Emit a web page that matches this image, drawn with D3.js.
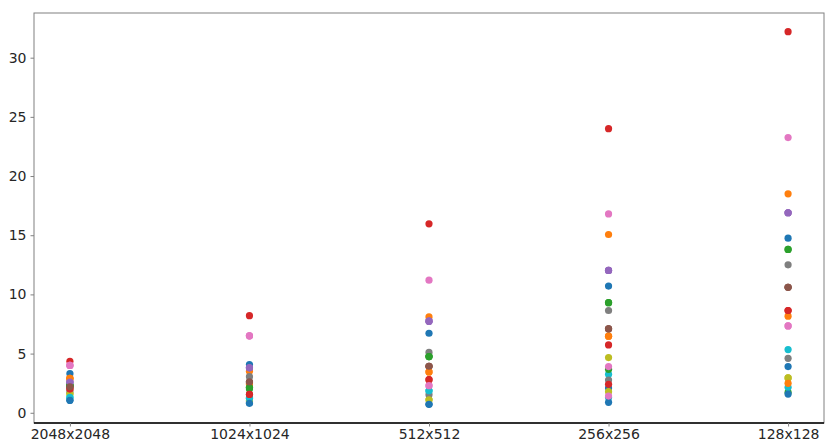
<!DOCTYPE html>
<html>
<head>
<meta charset="utf-8">
<script src="https://cdn.jsdelivr.net/npm/d3@7"></script>
<style>
  body { margin: 0; background: #fff; }
  text { font-family: "DejaVu Sans", sans-serif; }
</style>
</head>
<body>
<div id="chart"></div>
<script>
// categories on the x axis
const sizes = ["2048x2048", "1024x1024", "512x512", "256x256", "128x128"];
const yTicks = [0, 5, 10, 15, 20, 25, 30];

// matplotlib tab10 cycle
const palette = ["#1f77b4", "#ff7f0e", "#2ca02c", "#d62728", "#9467bd",
                 "#8c564b", "#e377c2", "#7f7f7f", "#bcbd22", "#17becf"];

// one row per series, one value per size
const s00 = [3.3, 4.07, 6.72, 10.7, 14.75];
const s01 = [2.9, 3.5, 8.1, 15.06, 18.5];
const s02 = [2.3, 2.15, 4.75, 9.3, 13.8];
const s03 = [4.35, 8.2, 15.96, 24.0, 32.2];
const s04 = [2.6, 3.8, 7.74, 12.03, 16.9];
const s05 = [2.2, 2.6, 3.93, 7.09, 10.6];
const s06 = [4.0, 6.5, 11.2, 16.8, 23.25];
const s07 = [2.4, 3.05, 5.1, 8.64, 12.5];
const s08 = [1.6, 1.0, 1.1, 4.66, 2.94];
const s09 = [1.3, 1.2, 1.86, 3.25, 5.34];
const s10 = [1.05, 0.85, 0.71, 2.09, 3.9];
const s11 = [2.9, 2.43, 3.45, 6.47, 8.16];
const s12 = [2.3, 2.0, 4.75, 3.67, 1.72];
const s13 = [2.0, 1.55, 2.8, 5.73, 8.64];
const s14 = [2.6, 3.8, 7.74, 12.03, 16.9];
const s15 = [2.2, 2.6, 3.93, 7.09, 10.6];
const s16 = [4.0, 6.5, 2.29, 3.9, 7.34];
const s17 = [1.8, 1.3, 1.53, 2.77, 4.6];
const s18 = [1.6, 1.0, 1.1, 1.78, 2.94];
const s19 = [1.3, 1.2, 1.86, 1.3, 2.15];
const s20 = [1.05, 0.8, 0.71, 0.88, 1.58];
const s21 = [2.9, 2.43, 3.45, 6.47, 2.49];
const s22 = [2.3, 2.15, 4.75, 9.3, 13.8];
const s23 = [2.0, 1.55, 2.8, 2.4, 8.64];
const s24 = [2.6, 3.8, 7.74, 12.03, 16.9];
const s25 = [2.2, 2.6, 3.93, 7.09, 10.6];
const s26 = [4.0, 6.5, 2.29, 1.41, 7.34];

const series = [s00, s01, s02, s03, s04, s05, s06, s07, s08, s09,
                s10, s11, s12, s13, s14, s15, s16, s17, s18, s19,
                s20, s21, s22, s23, s24, s25, s26];

const width = 831, height = 447;
const margin = { top: 13, right: 7, bottom: 24, left: 34 };

const svg = d3.select("#chart").append("svg")
  .attr("width", width)
  .attr("height", height);

// categorical positions with matplotlib's 5% margins
const x = d3.scaleLinear()
  .domain([-0.2, sizes.length - 1 + 0.2])
  .range([margin.left, width - margin.right]);

const allVals = series.flat();
const yMin = d3.min(allVals), yMax = d3.max(allVals);
const pad = (yMax - yMin) * 0.05;
const y = d3.scaleLinear()
  .domain([yMin - pad, yMax + pad])
  .range([height - margin.bottom, margin.top]);

// points
series.forEach(function(vals, i) {
  svg.append("g")
    .selectAll("circle")
    .data(vals)
    .join("circle")
    .attr("cx", (d, j) => x(j))
    .attr("cy", d => y(d))
    .attr("r", 3.6)
    .attr("fill", palette[i % 10]);
});

// frame
const x0 = margin.left, x1 = width - margin.right;
const y0 = margin.top, y1 = height - margin.bottom;
svg.append("rect")
  .attr("x", x0).attr("y", y0)
  .attr("width", x1 - x0).attr("height", y1 - y0)
  .attr("fill", "none")
  .attr("stroke", "#808080")
  .attr("stroke-width", 1);
svg.append("line")
  .attr("x1", x0).attr("x2", x1)
  .attr("y1", y1).attr("y2", y1)
  .attr("stroke", "#000")
  .attr("stroke-width", 1.6);

// axes
const yAxis = d3.axisLeft(y).tickValues(yTicks).tickSize(3.5).tickPadding(4);
const gy = svg.append("g")
  .attr("transform", "translate(" + x0 + ",0)")
  .call(yAxis);

const xAxis = d3.axisBottom(x)
  .tickValues(d3.range(sizes.length))
  .tickFormat(i => sizes[i])
  .tickSize(3.5).tickPadding(3);
const gx = svg.append("g")
  .attr("transform", "translate(0," + y1 + ")")
  .call(xAxis);

[gx, gy].forEach(function(g) {
  g.select(".domain").remove();
  g.selectAll(".tick line").attr("stroke", "#808080");
  g.selectAll(".tick text")
    .attr("fill", "#262626")
    .style("font-size", "14px")
    .style("font-family", "DejaVu Sans, sans-serif");
});
</script>
</body>
</html>
